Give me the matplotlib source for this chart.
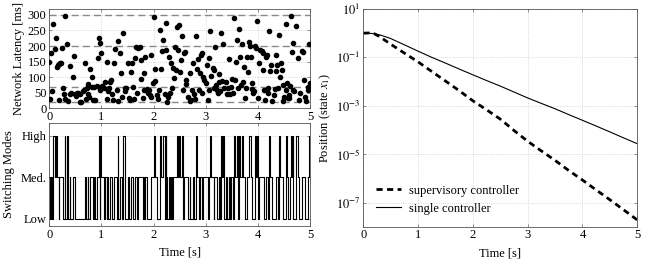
import matplotlib
matplotlib.use('Agg')
import matplotlib.pyplot as plt
import numpy as np

plt.rcParams['font.family'] = ['Liberation Serif', 'DejaVu Serif']
plt.rcParams['mathtext.fontset'] = 'stix'
plt.rcParams['font.size'] = 9

# network latency samples (time [s], latency [ms])
lat_t = [0.00, 0.01, 0.03, 0.06, 0.08, 0.10, 0.12, 0.14, 0.17, 0.18, 0.19, 0.20, 0.22, 0.24, 0.26, 0.28,
         0.30, 0.31, 0.34, 0.36, 0.39, 0.40, 0.42, 0.45, 0.47, 0.49, 0.51, 0.54, 0.56, 0.58, 0.59, 0.61,
         0.64, 0.66, 0.68, 0.70, 0.72, 0.74, 0.75, 0.77, 0.79, 0.81, 0.82, 0.84, 0.86, 0.88, 0.91, 0.93,
         0.95, 0.97, 0.98, 1.00, 1.02, 1.05, 1.07, 1.10, 1.11, 1.13, 1.14, 1.16, 1.18, 1.21, 1.23, 1.25,
         1.26, 1.29, 1.31, 1.32, 1.35, 1.37, 1.39, 1.42, 1.45, 1.46, 1.48, 1.51, 1.53, 1.55, 1.57, 1.59,
         1.61, 1.62, 1.64, 1.66, 1.69, 1.70, 1.73, 1.75, 1.76, 1.79, 1.81, 1.82, 1.84, 1.87, 1.89, 1.91,
         1.93, 1.95, 1.96, 1.98, 2.00, 2.02, 2.03, 2.06, 2.08, 2.11, 2.13, 2.15, 2.17, 2.19, 2.21, 2.23,
         2.24, 2.26, 2.28, 2.30, 2.32, 2.34, 2.36, 2.38, 2.40, 2.41, 2.43, 2.45, 2.47, 2.49, 2.51, 2.52,
         2.54, 2.56, 2.58, 2.60, 2.62, 2.63, 2.66, 2.69, 2.70, 2.72, 2.74, 2.76, 2.78, 2.80, 2.82, 2.84,
         2.86, 2.87, 2.89, 2.90, 2.92, 2.93, 2.95, 2.97, 3.00, 3.02, 3.04, 3.06, 3.07, 3.09, 3.11, 3.13,
         3.15, 3.16, 3.18, 3.20, 3.21, 3.23, 3.25, 3.26, 3.27, 3.29, 3.31, 3.33, 3.35, 3.38, 3.40, 3.42,
         3.44, 3.47, 3.49, 3.50, 3.53, 3.55, 3.56, 3.58, 3.60, 3.62, 3.64, 3.66, 3.68, 3.70, 3.71, 3.73,
         3.75, 3.77, 3.79, 3.81, 3.83, 3.85, 3.87, 3.88, 3.89, 3.91, 3.93, 3.95, 3.97, 3.99, 4.01, 4.03,
         4.05, 4.07, 4.09, 4.10, 4.12, 4.14, 4.16, 4.17, 4.19, 4.20, 4.22, 4.24, 4.26, 4.28, 4.30, 4.32,
         4.34, 4.35, 4.37, 4.39, 4.41, 4.42, 4.44, 4.46, 4.48, 4.49, 4.51, 4.53, 4.54, 4.55, 4.57, 4.59,
         4.60, 4.62, 4.64, 4.66, 4.67, 4.68, 4.70, 4.74, 4.76, 4.78, 4.80, 4.84, 4.86, 4.88, 4.90, 4.92,
         4.96, 4.97, 4.99, 5.00]
lat_ms = [150, 30, 177, 54, 271, 190, 227, 134, 139, 27, 143, 145, 147, 195, 64, 46,
          298, 30, 206, 25, 137, 45, 48, 101, 168, 45, 40, 48, 50, 45, 21, 21,
          57, 59, 147, 29, 64, 77, 45, 37, 126, 70, 102, 27, 70, 27, 72, 163,
          225, 59, 209, 177, 72, 64, 83, 30, 150, 57, 64, 84, 91, 45, 27, 145,
          190, 59, 216, 24, 177, 115, 37, 241, 56, 64, 66, 147, 32, 27, 117, 145,
          67, 31, 163, 198, 50, 195, 198, 94, 154, 34, 115, 59, 166, 63, 50, 59,
          43, 37, 171, 80, 293, 88, 125, 43, 29, 59, 250, 126, 185, 220, 45, 273,
          188, 21, 37, 166, 50, 147, 66, 129, 96, 198, 123, 260, 188, 268, 118, 155,
          233, 59, 177, 182, 77, 91, 37, 112, 25, 27, 59, 145, 45, 29, 233, 126,
          158, 59, 115, 171, 177, 48, 102, 91, 80, 139, 27, 59, 161, 249, 105, 129,
          66, 123, 198, 75, 59, 50, 83, 109, 54, 243, 88, 206, 66, 86, 45, 66,
          159, 45, 70, 95, 48, 291, 91, 150, 218, 66, 254, 164, 75, 206, 86, 134,
          32, 64, 166, 118, 214, 200, 166, 80, 61, 48, 54, 200, 193, 282, 32, 145,
          188, 185, 177, 123, 60, 27, 166, 171, 48, 64, 247, 120, 139, 25, 43, 61,
          171, 120, 139, 64, 236, 102, 147, 123, 75, 24, 37, 59, 270, 80, 32, 32,
          43, 72, 295, 182, 209, 59, 54, 265, 161, 27, 48, 185, 180, 92, 37, 25,
          60, 70, 205, 80]

# latency bounds of the switching modes (dashed lines)
bounds = [20, 70, 200, 300]
mode_names = ['Low', 'Med.', 'High']

# position of state x1 over time
pos_t = [0.0, 0.1, 0.2, 0.3, 0.4, 0.5, 0.75, 1.0, 1.25, 1.5, 1.75, 2.0, 2.25, 2.5, 2.75, 3.0,
         3.25, 3.5, 3.75, 4.0, 4.25, 4.5, 4.75, 5.0]
sup_x1 = [1.0, 1.02, 0.95, 0.72, 0.5, 0.35, 0.15, 0.065, 0.026, 0.0105, 0.0042, 0.0016, 6.8e-4, 2.8e-4,
          9.5e-5, 3.4e-5, 1.35e-5, 5.5e-6, 2.1e-6, 8.5e-7, 3.3e-7, 1.3e-7, 5.0e-8, 1.9e-8]
single_x1 = [1.0, 1.0, 0.95, 0.85, 0.72, 0.6, 0.33, 0.18, 0.1, 0.058, 0.033, 0.019, 0.011, 0.0065,
             0.0037, 0.0021, 0.00125, 7.5e-4, 4.3e-4, 2.5e-4, 1.45e-4, 8.3e-5, 4.7e-5, 2.7e-5]

# mode of each sample from the latency bounds
lat = np.array(lat_ms)
mode = np.where(lat < bounds[1], 0, np.where(lat < bounds[2], 1, 2))

fig = plt.figure(figsize=(6.46, 2.63), dpi=100)
ax1 = fig.add_axes([0.0763, 0.5882, 0.4036, 0.3764])
ax2 = fig.add_axes([0.0763, 0.1407, 0.4036, 0.3916])
ax3 = fig.add_axes([0.5624, 0.138, 0.4241, 0.8278])

for ax in (ax1, ax2, ax3):
    ax.tick_params(direction='in', top=True, right=True, length=2.5, width=0.5, pad=2,
                   color='#666666')
    ax.grid(True, linestyle=':', color='#cccccc', linewidth=0.6)
    ax.set_axisbelow(True)
    for s in ax.spines.values():
        s.set_linewidth(0.6)
        s.set_color('#555555')

for b in bounds:
    ax1.axhline(b, color='#888888', linestyle=(0, (5, 3)), linewidth=1.0, zorder=1)
ax1.plot(lat_t, lat_ms, 'o', color='black', ms=3.0, zorder=3)
ax1.set_xlim(0, 5)
ax1.set_ylim(0, 318)
ax1.set_yticks([0, 50, 100, 150, 200, 250, 300])
ax1.set_xticks([0, 1, 2, 3, 4, 5])
ax1.set_ylabel('Network Latency [ms]', labelpad=2)

ax2.step(list(lat_t) + [5.0], list(mode) + [mode[-1]], where='post', color='black', linewidth=0.8)
ax2.set_xlim(0, 5)
ax2.set_ylim(-0.17, 2.3)
ax2.set_yticks([0, 1, 2])
ax2.set_yticklabels(mode_names)
ax2.set_xticks([0, 1, 2, 3, 4, 5])
ax2.set_ylabel('Switching Modes', labelpad=4)
ax2.set_xlabel('Time [s]', labelpad=4)

ax3.semilogy(pos_t, sup_x1, color='black', linestyle=(0, (2.2, 1.6)), linewidth=2.0,
             label='supervisory controller')
ax3.semilogy(pos_t, single_x1, color='black', linewidth=0.8, label='single controller')
ax3.set_xlim(0, 5)
ax3.set_ylim(1e-8, 10)
ax3.set_yticks([1e1, 1e-1, 1e-3, 1e-5, 1e-7])
ax3.set_yticklabels([r'$10^{1}$', r'$10^{-1}$', r'$10^{-3}$', r'$10^{-5}$', r'$10^{-7}$'])
ax3.minorticks_off()
ax3.set_xticks([0, 1, 2, 3, 4, 5])
ax3.set_xlabel('Time [s]', labelpad=4)
ax3.set_ylabel('Position (state $x_1$)', labelpad=2)
ax3.legend(loc='lower left', frameon=False, handlelength=2.0, handletextpad=0.6,
           bbox_to_anchor=(0.02, 0.02), borderaxespad=0.2)

plt.savefig('out.png', dpi=100)
plt.close()
